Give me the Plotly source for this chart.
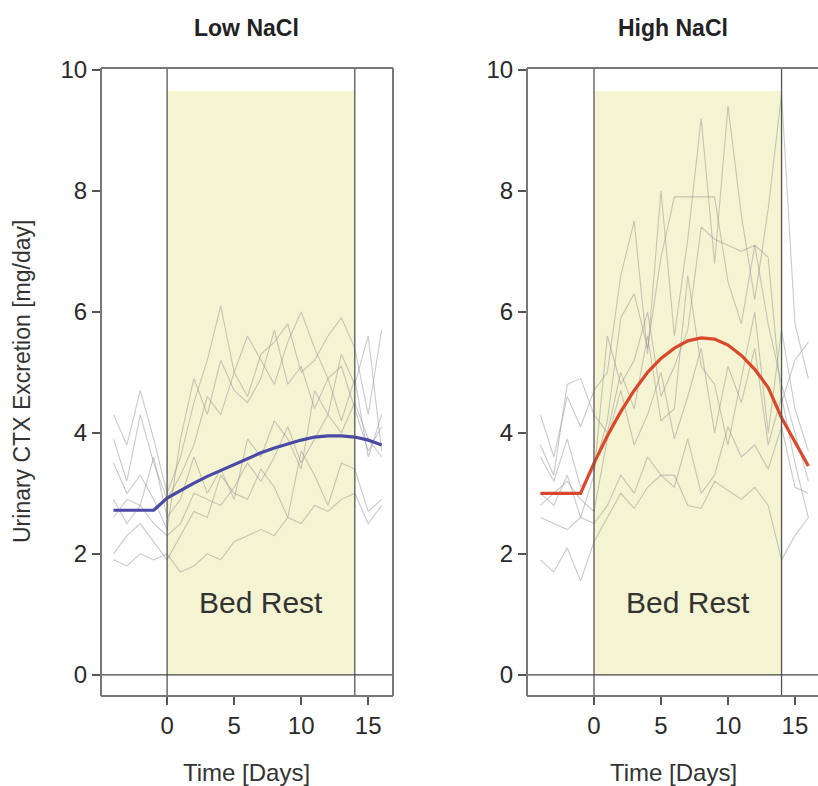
import plotly.graph_objects as go

W, H = 818, 786

# ---------------- data ----------------
days = list(range(-4, 17))
bed_rest_start, bed_rest_end = 0, 14
shade_top = 9.65

low_mean = [2.72, 2.72, 2.72, 2.72, 2.92, 3.05, 3.17, 3.28, 3.38, 3.48, 3.58,
            3.67, 3.75, 3.82, 3.88, 3.93, 3.95, 3.95, 3.93, 3.88, 3.80]
high_mean = [3.0, 3.0, 3.0, 3.0, 3.5, 3.95, 4.35, 4.7, 5.0, 5.23, 5.4,
             5.52, 5.57, 5.55, 5.45, 5.28, 5.05, 4.75, 4.25, 3.85, 3.45]

low_subjects = [
    [4.3, 3.8, 4.7, 3.9, 3.0, 3.6, 4.5, 5.2, 6.1, 5.0, 4.6, 5.3, 5.5, 5.8, 5.0, 5.2, 5.6, 5.9, 5.4, 4.3, 5.7],
    [3.9, 3.2, 4.3, 3.5, 2.9, 3.3, 3.8, 4.6, 4.3, 5.0, 5.6, 5.2, 4.8, 5.5, 6.0, 5.4, 4.9, 5.1, 4.4, 3.7, 4.1],
    [2.9, 2.5, 2.8, 3.6, 2.6, 2.9, 3.6, 3.0, 3.4, 2.9, 3.9, 3.6, 4.2, 3.9, 3.4, 4.7, 4.3, 5.3, 4.8, 5.6, 3.7],
    [2.6, 2.9, 2.8, 2.5, 2.3, 2.5, 3.0, 2.9, 2.8, 3.1, 3.5, 3.2, 3.6, 4.1, 3.5, 3.9, 4.3, 4.0, 4.5, 3.9, 3.6],
    [2.0, 2.3, 2.5, 2.2, 1.9, 2.3, 2.7, 2.6, 3.3, 3.0, 2.9, 3.4, 3.1, 2.6, 3.7, 3.3, 2.8, 3.5, 3.4, 2.7, 2.9],
    [1.9, 1.8, 2.0, 1.9, 2.0, 1.7, 1.8, 2.0, 1.9, 2.2, 2.3, 2.4, 2.3, 2.6, 2.5, 2.8, 2.7, 2.9, 3.0, 2.5, 2.8],
    [3.5, 3.0, 3.3, 2.9, 2.4, 3.9, 4.9, 4.3, 5.2, 4.7, 4.5, 4.9, 5.7, 4.8, 5.1, 4.4, 4.9, 4.2, 4.9, 3.6, 4.3],
]
high_subjects = [
    [4.3, 3.6, 4.6, 4.1, 4.7, 5.0, 6.6, 7.5, 5.3, 8.0, 5.6, 7.2, 9.2, 6.8, 9.4, 7.6, 6.2, 7.7, 9.6, 5.8, 4.9],
    [3.6, 3.2, 3.9, 3.1, 3.4, 4.2, 5.9, 6.3, 5.4, 6.9, 7.9, 7.9, 7.9, 7.9, 6.5, 5.8, 7.1, 6.9, 4.5, 5.2, 5.5],
    [3.0, 2.8, 3.3, 2.6, 3.3, 5.6, 4.8, 5.2, 6.0, 4.6, 5.1, 5.7, 7.4, 7.2, 7.1, 7.0, 7.1, 5.8, 4.8, 4.0, 3.2],
    [3.8, 3.3, 4.8, 4.9, 4.3, 4.0, 5.0, 4.4, 5.6, 4.2, 4.4, 6.6, 5.1, 4.8, 3.8, 4.9, 6.0, 4.0, 5.7, 4.4, 3.7],
    [2.8, 3.0, 3.2, 2.9, 2.7, 3.9, 4.7, 3.8, 4.3, 5.0, 3.9, 4.6, 5.4, 4.0, 5.1, 4.5, 5.4, 3.8, 4.6, 3.5, 2.6],
    [2.6, 2.5, 2.4, 2.6, 2.5, 2.8, 3.3, 3.0, 3.6, 3.3, 3.1, 3.9, 3.0, 3.3, 4.1, 3.6, 3.8, 3.4, 4.1, 3.1, 3.0],
    [1.9, 1.7, 2.1, 1.55, 2.2, 2.6, 3.0, 2.75, 3.1, 3.3, 3.3, 2.8, 2.75, 3.2, 3.05, 2.9, 3.1, 2.8, 1.9, 2.3, 2.6],
]

panel_titles = ["Low NaCl", "High NaCl"]
x_ticks = [0, 5, 10, 15]
y_ticks = [0, 2, 4, 6, 8, 10]
x_title = "Time [Days]"
y_title = "Urinary CTX Excretion [mg/day]"
shade_label = "Bed Rest"

# ---------------- figure ----------------
FONT = "Liberation Sans, Arial, sans-serif"
GRAY = "rgba(150,150,150,0.5)"
BLUE = "#4a4aa6"
RED = "#d9482c"
SHADE = "#f4f4d2"

fig = go.Figure()

panels = [("x", "y", low_subjects, low_mean, BLUE),
          ("x2", "y2", high_subjects, high_mean, RED)]

for xa, ya, subs, mean, col in panels:
    for s in subs:
        fig.add_trace(go.Scatter(x=days, y=s, xaxis=xa, yaxis=ya, mode="lines",
                                 line=dict(color=GRAY, width=1.1),
                                 hoverinfo="skip", showlegend=False))
    fig.add_trace(go.Scatter(x=days, y=mean, xaxis=xa, yaxis=ya, mode="lines",
                             line=dict(color=col, width=3.2), showlegend=False))

x_dom = [[101 / W, 393 / W], [527 / W, 1.0]]
x_rng = [[-4.93, 16.85], [-5.0, 16.72]]
y_dom = [1 - 696 / H, 1 - 68 / H]
y_rng = [-0.35, 10.03]

axis_common = dict(showgrid=False, zeroline=False, showline=False,
                   ticks="outside", ticklen=8, tickwidth=1.5, tickcolor="#555",
                   tickfont=dict(family=FONT, size=24, color="#2a2a2a"),
                   automargin=False, fixedrange=True)

for i, suf in enumerate(["", "2"]):
    fig.update_layout(**{
        "xaxis" + suf: dict(axis_common, domain=x_dom[i], range=x_rng[i],
                            tickvals=x_ticks, anchor="y" + suf),
        "yaxis" + suf: dict(axis_common, domain=y_dom, range=y_rng,
                            tickvals=y_ticks, anchor="x" + suf),
    })

shapes = []
for i, suf in enumerate(["", "2"]):
    xr, yr = "x" + suf, "y" + suf
    shapes.append(dict(type="rect", xref=xr, yref=yr, x0=bed_rest_start, x1=bed_rest_end,
                       y0=0, y1=shade_top, fillcolor=SHADE, line=dict(width=0), layer="below"))
    for xv in (bed_rest_start, bed_rest_end):
        shapes.append(dict(type="line", xref=xr, yref=yr + " domain", x0=xv, x1=xv,
                           y0=0, y1=1, line=dict(color="#555", width=1.3)))
    shapes.append(dict(type="line", xref=xr + " domain", yref=yr, x0=0, x1=1,
                       y0=0, y1=0, line=dict(color="#444", width=1.3)))
    sides = [(0, 0, 0, 1), (0, 1, 1, 1), (0, 0, 1, 0)]
    if i == 0:
        sides.append((1, 0, 1, 1))
    for x0, y0, x1, y1 in sides:
        shapes.append(dict(type="line", xref=xr + " domain", yref=yr + " domain",
                           x0=x0, y0=y0, x1=x1, y1=y1, line=dict(color="#777", width=2)))

annotations = []
for i, suf in enumerate(["", "2"]):
    cx = (101 + 393) / 2 / W if i == 0 else (527 + 527 + 292) / 2 / W
    annotations.append(dict(text="<b>" + panel_titles[i] + "</b>", xref="paper", yref="paper",
                            x=cx, y=1 - 28 / H, xanchor="center", yanchor="middle",
                            showarrow=False, font=dict(family=FONT, size=23, color="#222")))
    annotations.append(dict(text=x_title, xref="paper", yref="paper",
                            x=cx, y=1 - 772 / H, xanchor="center", yanchor="middle",
                            showarrow=False, font=dict(family=FONT, size=24, color="#333")))
    annotations.append(dict(text=shade_label, xref="x" + suf, yref="y" + suf,
                            x=(bed_rest_start + bed_rest_end) / 2, y=1.19,
                            xanchor="center", yanchor="middle", showarrow=False,
                            font=dict(family=FONT, size=30, color="#333")))
annotations.append(dict(text=y_title, xref="paper", yref="paper", x=22 / W,
                        y=(y_dom[0] + y_dom[1]) / 2, xanchor="center", yanchor="middle",
                        textangle=-90, showarrow=False,
                        font=dict(family=FONT, size=23, color="#333")))

fig.update_layout(width=W, height=H, margin=dict(l=0, r=0, t=0, b=0),
                  paper_bgcolor="white", plot_bgcolor="white",
                  shapes=shapes, annotations=annotations, showlegend=False)

fig.write_html("out.html", config={"displayModeBar": False},
               post_script="document.body.style.margin='0';document.body.style.overflow='hidden';")
